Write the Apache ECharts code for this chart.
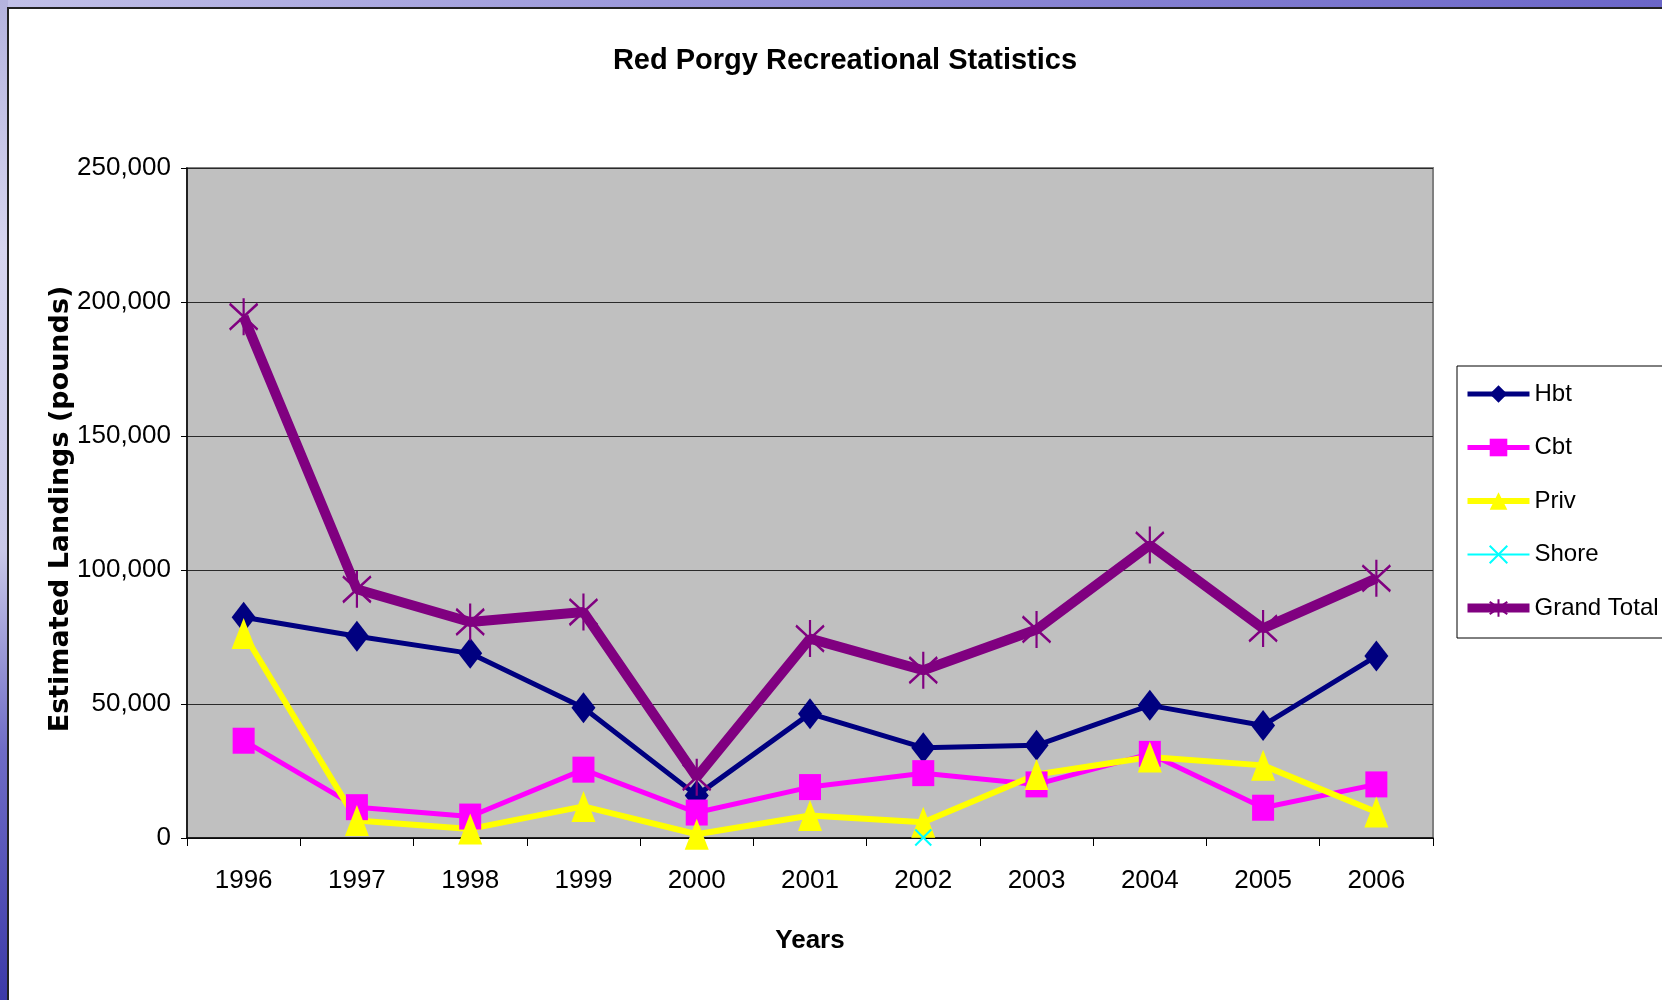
<!DOCTYPE html>
<html>
<head>
<meta charset="utf-8">
<title>Red Porgy Recreational Statistics</title>
<script src="https://cdn.jsdelivr.net/npm/echarts@6/dist/echarts.min.js"></script>
<style>
	html, body {
		margin: 0;
		width: 1662px;
		height: 1000px;
		overflow: hidden;
		background: linear-gradient(90deg, #c2c1e8 0%, #9a97da 40%, #6b66c8 100%);
	}
	/* 左侧蓝色边条 */
	#leftStrip {
		position: absolute;
		left: 0;
		top: 0;
		width: 8px;
		height: 1000px;
		background: linear-gradient(180deg, #b4b3de 0%, #d6d5ef 25%, #c9c8e8 55%, #6f6cc6 75%, #3c3aa8 100%);
	}
	/* 白色幻灯片区域 */
	#frame {
		position: absolute;
		left: 7px;
		top: 7px;
		right: 0;
		bottom: 0;
		background: #fff;
		border-left: 2px solid #222;
		border-top: 2px solid #222;
	}
	#chart {
		position: absolute;
		left: 0;
		top: 0;
		width: 1662px;
		height: 1000px;
	}
</style>
</head>
<body>
<div id="leftStrip"></div>
<div id="frame"></div>
<div id="chart"></div>
<script>
// 年份
const years = ['1996', '1997', '1998', '1999', '2000', '2001', '2002', '2003', '2004', '2005', '2006'];
// 各类渔获量 (磅)
const hbt = [82400, 75300, 68900, 48600, 15900, 46400, 33700, 34600, 49500, 42000, 67900];
const cbt = [36300, 11500, 8000, 25500, 9500, 19000, 24200, 20000, 31400, 11300, 20000];
const priv = [76300, 6500, 3400, 11800, 1400, 8400, 5900, 23700, 30200, 27100, 9700];
const shore = [null, null, null, null, null, null, 200, null, null, null, null];
const grandTotal = [194500, 92800, 80600, 84300, 22700, 74400, 62600, 77800, 109300, 78200, 96900];
// y轴刻度
const yTicks = [0, 50000, 100000, 150000, 200000, 250000];

const font = "'Liberation Sans', Arial, sans-serif";

const chart = echarts.init(document.getElementById('chart'));

const fmt = (v) => v.toString().replace(/\B(?=(\d{3})+(?!\d))/g, ',');

const starPath = 'path://M5,0L5,10M0,1.5L10,8.5M10,1.5L0,8.5';
const crossPath = 'path://M0,0L10,10M10,0L0,10';

const option = {
	animation: false,
	backgroundColor: 'transparent',
	title: {
		text: 'Red Porgy Recreational Statistics',
		left: 840,
		top: 41,
		textAlign: 'center',
		textStyle: {
			fontFamily: font,
			fontWeight: 'bold',
			fontSize: 29,
			color: '#000',
		},
	},
	legend: {
		orient: 'vertical',
		left: 1457,
		top: 366,
		padding: [16, 60, 18, 6],
		itemWidth: 62,
		itemHeight: 22,
		itemGap: 29.5,
		borderColor: '#000',
		borderWidth: 1,
		backgroundColor: '#fff',
		textStyle: {
			fontFamily: font,
			fontSize: 24,
			lineHeight: 22,
			color: '#000',
		},
		data: [
			{ name: 'Hbt', lineStyle: { width: 5 } },
			{ name: 'Cbt', lineStyle: { width: 5 } },
			{ name: 'Priv', lineStyle: { width: 6 } },
			{ name: 'Shore', lineStyle: { width: 2 } },
			{ name: 'Grand Total', lineStyle: { width: 9 } },
		],
	},
	grid: {
		left: 187,
		top: 168,
		right: 229,
		bottom: 162,
		show: true,
		backgroundColor: '#c0c0c0',
		borderColor: '#808080',
		borderWidth: 2,
	},
	xAxis: {
		type: 'category',
		data: years,
		boundaryGap: true,
		name: 'Years',
		nameLocation: 'middle',
		nameGap: 90,
		nameMoveOverlap: false,
		nameTextStyle: {
			fontFamily: font,
			fontWeight: 'bold',
			fontSize: 26,
			color: '#000',
		},
		axisLine: { lineStyle: { color: '#000', width: 1.5 } },
		axisTick: { show: true, length: 8, lineStyle: { color: '#000' } },
		axisLabel: {
			fontFamily: font,
			fontSize: 26,
			color: '#000',
			margin: 30,
		},
	},
	yAxis: {
		type: 'value',
		min: yTicks[0],
		max: yTicks[yTicks.length - 1],
		interval: 50000,
		name: 'Estimated Landings (pounds)',
		nameLocation: 'middle',
		nameGap: 113,
		nameMoveOverlap: false,
		nameTextStyle: {
			fontFamily: "'DejaVu Sans', sans-serif",
			fontWeight: 'bold',
			fontSize: 27,
			color: '#000',
			padding: [0, 12, 0, 0],
		},
		axisLine: { show: true, lineStyle: { color: '#000', width: 1.5 } },
		axisTick: { show: true, length: 6, lineStyle: { color: '#000' } },
		axisLabel: {
			fontFamily: font,
			fontSize: 26,
			color: '#000',
			margin: 16,
			formatter: fmt,
		},
		splitLine: { show: true, lineStyle: { color: '#2a2a2a', width: 1.2 } },
	},
	series: [
		{
			name: 'Hbt',
			type: 'line',
			data: hbt,
			symbol: 'diamond',
			symbolSize: [24, 31],
			showAllSymbol: true,
			lineStyle: { color: '#000080', width: 5 },
			itemStyle: { color: '#000080' },
		},
		{
			name: 'Cbt',
			type: 'line',
			data: cbt,
			symbol: 'rect',
			symbolSize: [22, 26],
			showAllSymbol: true,
			lineStyle: { color: '#ff00ff', width: 5 },
			itemStyle: { color: '#ff00ff' },
		},
		{
			name: 'Priv',
			type: 'line',
			data: priv,
			symbol: 'triangle',
			symbolSize: [24, 31],
			showAllSymbol: true,
			lineStyle: { color: '#ffff00', width: 6 },
			itemStyle: { color: '#ffff00' },
		},
		{
			name: 'Shore',
			type: 'line',
			data: shore,
			symbol: crossPath,
			symbolSize: 16,
			showAllSymbol: true,
			lineStyle: { color: '#00ffff', width: 2 },
			itemStyle: { color: '#00ffff', borderColor: '#00ffff', borderWidth: 2 },
		},
		{
			name: 'Grand Total',
			type: 'line',
			data: grandTotal,
			symbol: starPath,
			symbolSize: [28, 37],
			showAllSymbol: true,
			lineStyle: { color: '#800080', width: 10 },
			itemStyle: { color: '#800080', borderColor: '#800080', borderWidth: 2.5 },
		},
	],
};

chart.setOption(option);
</script>
</body>
</html>
